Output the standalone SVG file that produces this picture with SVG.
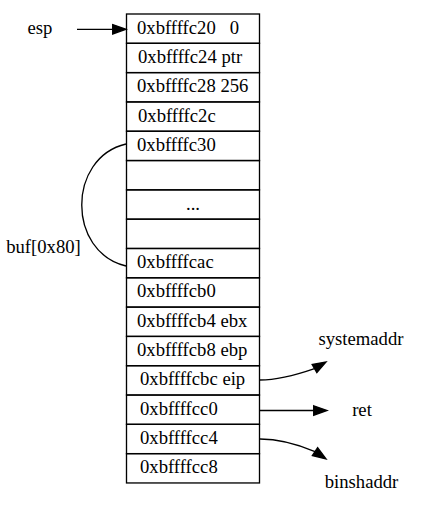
<svg xmlns="http://www.w3.org/2000/svg" width="421" height="512" viewBox="0 0 421 512">
<style>
text{font-family:"Liberation Serif","Times New Roman",serif;font-size:18.67px;fill:#000}
.cell{fill:none;stroke:#000;stroke-width:1.33}
.edge{fill:none;stroke:#000;stroke-width:1.33}
.head{fill:#000;stroke:#000;stroke-width:1.33}
</style>
<rect width="421" height="512" fill="#fff"/>
<g id="stack">
<g id="f0"><rect class="cell" x="126.5" y="14" width="133" height="29.31"/><text x="137" y="33.7" xml:space="preserve">0xbffffc20   0</text></g>
<g id="f1"><rect class="cell" x="126.5" y="43.31" width="133" height="29.31"/><text x="138" y="63">0xbffffc24 ptr</text></g>
<g id="f2"><rect class="cell" x="126.5" y="72.62" width="133" height="29.31"/><text x="137" y="92.3">0xbffffc28 256</text></g>
<g id="f3"><rect class="cell" x="126.5" y="101.93" width="133" height="29.31"/><text x="138" y="121.6">0xbffffc2c</text></g>
<g id="f4"><rect class="cell" x="126.5" y="131.24" width="133" height="29.31"/><text x="137" y="150.9">0xbffffc30</text></g>
<g id="f5"><rect class="cell" x="126.5" y="160.55" width="133" height="29.31"/></g>
<g id="f6"><rect class="cell" x="126.5" y="189.86" width="133" height="29.31"/><text x="193" y="209.5" text-anchor="middle">...</text></g>
<g id="f7"><rect class="cell" x="126.5" y="219.17" width="133" height="29.31"/></g>
<g id="f8"><rect class="cell" x="126.5" y="248.48" width="133" height="29.31"/><text x="137" y="268.1">0xbffffcac</text></g>
<g id="f9"><rect class="cell" x="126.5" y="277.79" width="133" height="29.31"/><text x="137" y="297.4">0xbffffcb0</text></g>
<g id="f10"><rect class="cell" x="126.5" y="307.1" width="133" height="29.31"/><text x="137" y="326.7">0xbffffcb4 ebx</text></g>
<g id="f11"><rect class="cell" x="126.5" y="336.41" width="133" height="29.31"/><text x="137" y="356">0xbffffcb8 ebp</text></g>
<g id="f12"><rect class="cell" x="126.5" y="365.72" width="133" height="29.31"/><text x="140" y="385.3">0xbffffcbc eip</text></g>
<g id="f13"><rect class="cell" x="126.5" y="395.03" width="133" height="29.31"/><text x="140" y="414.6">0xbffffcc0</text></g>
<g id="f14"><rect class="cell" x="126.5" y="424.34" width="133" height="29.31"/><text x="140" y="443.9">0xbffffcc4</text></g>
<g id="f15"><rect class="cell" x="126.5" y="453.65" width="133" height="29.31"/><text x="140" y="473.2">0xbffffcc8</text></g>
</g>
<g id="esp"><text x="40" y="34" text-anchor="middle">esp</text></g>
<g id="systemaddr"><text x="361" y="345" text-anchor="middle">systemaddr</text></g>
<g id="ret"><text x="362" y="416" text-anchor="middle">ret</text></g>
<g id="binshaddr"><text x="361.5" y="488" text-anchor="middle">binshaddr</text></g>
<g id="connectors">
<path class="edge" d="M77,29.3 L112.7,29.3"/>
<polygon class="head" points="112.7,24.6 126,29.3 112.7,34"/>
<path class="edge" d="M126,144 C67,158 67,252 126,266"/>
<text x="43.5" y="253" text-anchor="middle">buf[0x80]</text>
<path class="edge" d="M260,380 C278,380 296,375 314.5,368.6"/>
<polygon class="head" points="316.85,372.67 326,362 312.15,364.53"/>
<path class="edge" d="M260,410.5 L313.7,410.5"/>
<polygon class="head" points="313.7,405.8 327,410.5 313.7,415.2"/>
<path class="edge" d="M260,439 C278,439 297,444 315,451.6"/>
<polygon class="head" points="312.37,455.5 326,459 317.63,447.7"/>
</g>
</svg>
